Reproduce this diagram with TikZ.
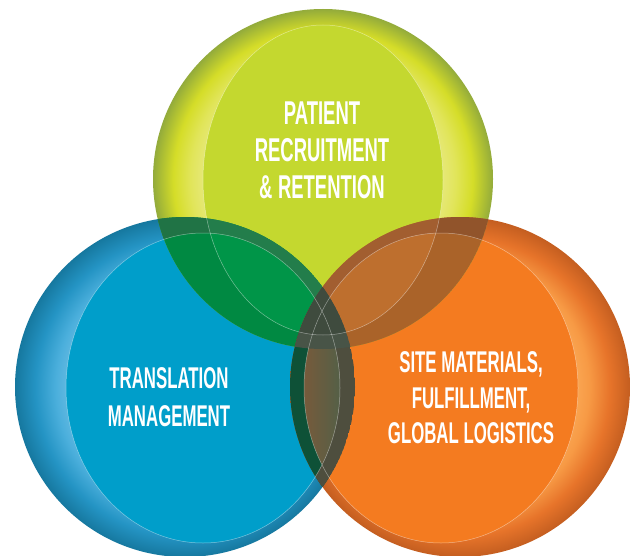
\documentclass[tikz,border=0pt]{standalone}
\usepackage{fontspec}
\newfontfamily\bebas[FakeStretch=0.56]{Liberation Sans}
\definecolor{gface}{HTML}{C4D82F}
\definecolor{gpale}{HTML}{E6E878}
\definecolor{gpaleb}{HTML}{E1E55A}
\definecolor{gyel}{HTML}{D5DD28}
\definecolor{gdk}{HTML}{93AB3B}
\definecolor{bface}{HTML}{009ECA}
\definecolor{bpale}{HTML}{64BAE2}
\definecolor{bpaleb}{HTML}{4BAFDC}
\definecolor{bmid}{HTML}{2494C4}
\definecolor{bdk}{HTML}{16789F}
\definecolor{oface}{HTML}{F47B20}
\definecolor{opale}{HTML}{FAA652}
\definecolor{opaleb}{HTML}{F79A45}
\definecolor{omid}{HTML}{E7742A}
\definecolor{odk}{HTML}{C45E20}
\definecolor{gbface}{HTML}{009548}
\definecolor{gbdark}{HTML}{237D4B}
\definecolor{goface}{HTML}{BE6F2E}
\definecolor{godark}{HTML}{A25E30}
\definecolor{boleft}{HTML}{7B5A3A}
\definecolor{boright}{HTML}{4F6048}
\definecolor{boor}{HTML}{0E5137}
\definecolor{bobl}{HTML}{4E4E3E}
\definecolor{gboface}{HTML}{3F4B3E}
\pgfdeclareradialshading{grim}{\pgfpoint{0bp}{0bp}}{color(0bp)=(gface); color(17.5bp)=(gpale); color(19.5bp)=(gpaleb); color(22bp)=(gyel); color(25bp)=(gdk); color(50bp)=(gdk)}
\pgfdeclareradialshading{brim}{\pgfpoint{0bp}{0bp}}{color(0bp)=(bface); color(17bp)=(bpale); color(19bp)=(bpaleb); color(22bp)=(bmid); color(25bp)=(bdk); color(50bp)=(bdk)}
\pgfdeclareradialshading{orim}{\pgfpoint{0bp}{0bp}}{color(0bp)=(oface); color(17bp)=(opale); color(19bp)=(opaleb); color(22bp)=(omid); color(25bp)=(odk); color(50bp)=(odk)}
\tikzset{
  rimline/.style={draw=white, draw opacity=0.45, line width=0.5pt},
  lbl/.style={text=white, inner sep=0pt, anchor=base, font=\bebas\bfseries\fontsize{30}{30}\selectfont},
  glbl/.style={lbl, font=\bebas\bfseries\fontsize{33}{33}\selectfont}
}
\def\GC{(323,179) circle (170)}
\def\GI{(323,180) ellipse [x radius=120, y radius=155]}
\def\BC{(185,387) circle (170)}
\def\BI{(203,388) ellipse [x radius=137, y radius=155]}
\def\OC{(460,387) circle (170)}
\def\OI{(441,388) ellipse [x radius=137, y radius=155]}
\begin{document}
\begin{tikzpicture}[x=1pt,y=-1pt]
\useasboundingbox (0,0) rectangle (634,556);
\fill[white] (0,0) rectangle (634,556);
% base circles
\shade[shading=brim] \BC;
\fill[bface] \BI;
\shade[shading=orim] \OC;
\fill[oface] \OI;
\shade[shading=grim] \GC;
\fill[gface] \GI;
% green & blue
\begin{scope}
  \clip \GC; \clip \BC;
  \fill[gbface] (0,0) rectangle (634,556);
  \fill[gbdark, even odd rule] \BC \BI;
  \fill[black, opacity=0.08, even odd rule] \GC \GI;
\end{scope}
% green & orange
\begin{scope}
  \clip \GC; \clip \OC;
  \fill[goface] (0,0) rectangle (634,556);
  \fill[godark, even odd rule] \OC \OI;
  \fill[black, opacity=0.1, even odd rule] \GC \GI;
\end{scope}
% blue & orange
\begin{scope}
  \clip \BC; \clip \OC;
  \shade[left color=boleft, right color=boright] (300,200) rectangle (345,560);
  \fill[boor, even odd rule] \OC \OI;
  \fill[bobl, even odd rule] \BC \BI;
\end{scope}
% all three
\begin{scope}
  \clip \GC; \clip \BC; \clip \OC;
  \fill[gboface] (0,0) rectangle (634,556);
  \fill[white, opacity=0.05, even odd rule] \GC \GI;
\end{scope}
% face outlines
\draw[rimline] \GI;
\draw[rimline] \BI;
\draw[rimline] \OI;
% labels
\node[glbl] (g1) at (322,125) {PATIENT};
\node[glbl] (g2) at (322,162) {RECRUITMENT};
\node[glbl] (g3) at (322,198) {\&\,RETENTION};
\node[lbl] (b1) at (169,388) {TRANSLATION};
\node[lbl] (b2) at (169,426) {MANAGEMENT};
\node[lbl] (o1) at (471,372) {SITE MATERIALS,};
\node[lbl] (o2) at (471,408) {FULFILLMENT,};
\node[lbl] (o3) at (471,443) {GLOBAL LOGISTICS};
\end{tikzpicture}
\end{document}
